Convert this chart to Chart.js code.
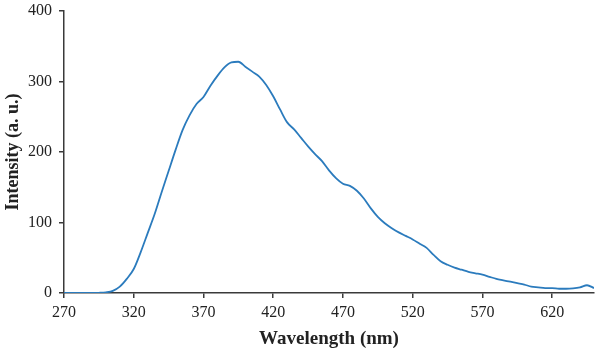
<!DOCTYPE html>
<html>
<head>
<meta charset="utf-8">
<script src="https://cdn.jsdelivr.net/npm/chart.js@4"></script>
<style>
  html, body { margin: 0; padding: 0; background: #fff; }
  #wrap { width: 603px; height: 352px; position: relative; }
</style>
</head>
<body>
<div id="wrap"><canvas id="spectrum"></canvas></div>
<script>
// --- Data ---
const wavelengths = [
    270, 275, 280, 285, 290, 295, 300, 305, 310, 315,
    320, 325, 330, 335, 340, 345, 350, 355, 360, 365,
    370, 375, 380, 385, 390, 395, 400, 405, 410, 415,
    420, 425, 430, 435, 440, 445, 450, 455, 460, 465,
    470, 475, 480, 485, 490, 495, 500, 505, 510, 515,
    520, 525, 530, 535, 540, 545, 550, 555, 560, 565,
    570, 575, 580, 585, 590, 595, 600, 605, 610, 615,
    620, 625, 630, 635, 640, 645, 650
];
const intensity = [
    0, 0, 0, 0, 0, 0.3, 1, 3, 9, 20,
    34, 58, 85, 112, 143, 173, 203, 231, 252, 268,
    278, 294, 308, 320, 327, 328, 321, 314, 307, 295,
    279, 260, 242, 232, 220, 208, 197, 187, 174, 163,
    155, 152, 145, 134, 120, 108, 99, 92, 86, 81,
    76, 70, 64, 54, 45, 40, 36, 33, 30, 28,
    26, 23, 20, 18, 16, 14, 12, 9, 8, 7,
    7, 6, 6, 6.5, 8, 11, 7
];
const xTicks = [270, 320, 370, 420, 470, 520, 570, 620];
const yTicks = [0, 100, 200, 300, 400];

const serif = "'Liberation Serif', 'Times New Roman', serif";
const axisColor = '#3a3a3a';

document.addEventListener('DOMContentLoaded', () => {
    const ctx = document.getElementById('spectrum');

    new Chart(ctx, {
        type: 'line',
        data: {
            datasets: [{
                label: 'Intensity',
                data: wavelengths.map((w, i) => ({ x: w, y: intensity[i] })),
                borderColor: '#2b7bbd',
                borderWidth: 1.8,
                pointRadius: 0,
                tension: 0.4,
                cubicInterpolationMode: 'monotone',
                fill: false
            }]
        },
        options: {
            responsive: true,
            maintainAspectRatio: false,
            animation: false,
            layout: { padding: { top: 11, right: 9, left: 0, bottom: 0 } },
            plugins: {
                legend: { display: false },
                tooltip: { enabled: false }
            },
            scales: {
                x: {
                    type: 'linear',
                    min: 270,
                    max: 650,
                    afterBuildTicks: axis => { axis.ticks = xTicks.map(v => ({ value: v })); },
                    afterFit: axis => {
                        axis.height = 59;
                        axis.paddingLeft = 0;
                        axis.paddingRight = 0;
                    },
                    grid: { drawOnChartArea: false, drawTicks: true, tickLength: 5, color: axisColor, lineWidth: 1.5 },
                    border: { display: true, color: axisColor, width: 1.5 },
                    ticks: { color: '#222', font: { family: serif, size: 16 }, padding: 5, maxRotation: 0 },
                    title: {
                        display: true,
                        text: 'Wavelength (nm)',
                        color: '#222',
                        font: { family: serif, size: 19, weight: 'bold' },
                        padding: { top: 2, bottom: 2 }
                    }
                },
                y: {
                    type: 'linear',
                    min: 0,
                    max: 400,
                    afterBuildTicks: axis => { axis.ticks = yTicks.map(v => ({ value: v })); },
                    afterFit: axis => {
                        axis.width = 64;
                        axis.paddingTop = 0;
                        axis.paddingBottom = 0;
                    },
                    grid: { drawOnChartArea: false, drawTicks: true, tickLength: 5, color: axisColor, lineWidth: 1.5 },
                    border: { display: true, color: axisColor, width: 1.5 },
                    ticks: { color: '#222', font: { family: serif, size: 16 }, padding: 7 },
                    title: {
                        display: true,
                        text: 'Intensity (a. u.)',
                        color: '#222',
                        font: { family: serif, size: 18, weight: 'bold' },
                        padding: { top: 3, bottom: 0 }
                    }
                }
            }
        }
    });
});
</script>
</body>
</html>
